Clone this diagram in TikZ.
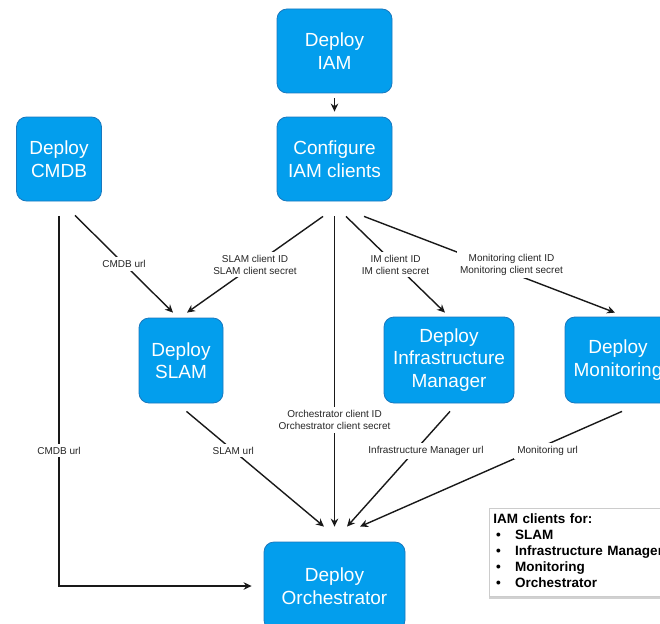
\documentclass[tikz,border=0pt]{standalone}
\usepackage{fontspec}
\setmainfont{Liberation Sans}
\usetikzlibrary{arrows.meta,shadows}
\definecolor{boxblue}{RGB}{3,158,237}
\definecolor{boxedge}{RGB}{25,120,190}
\begin{document}
\begin{tikzpicture}[x=1pt,y=-1pt,
  box/.style={draw=boxedge, line width=0.8pt, fill=boxblue, rounded corners=10pt,
    text=white, align=center, font=\fontsize{19}{22.5}\selectfont, inner sep=0pt},
  conn/.style={line width=1.4pt, draw=black!90, -{Stealth[length=8pt,width=7.5pt]}},
  lbl/.style={fill=white, inner sep=3pt, font=\fontsize{10}{12}\selectfont, text=black!85, align=center},
  legend/.style={draw=black!20, line width=0.6pt, fill=white, inner sep=4pt,
    font=\fontsize{13.5}{16}\selectfont\bfseries,
    drop shadow={shadow xshift=0pt, shadow yshift=-3pt, opacity=0.3, fill=black!60}}
]
\useasboundingbox (0,0) rectangle (660,623);

\node[box, minimum width=115pt, minimum height=84pt] (iam) at (334.5,51) {Deploy\\IAM};
\node[box, minimum width=115pt, minimum height=84pt] (conf) at (334.5,159) {Configure\\IAM clients};
\node[box, minimum width=85pt, minimum height=84pt] (cmdb) at (59,159) {Deploy\\CMDB};
\node[box, minimum width=84pt, minimum height=85pt] (slam) at (181,360.5) {Deploy\\SLAM};
\node[box, minimum width=130pt, minimum height=86pt] (im) at (449,360) {Deploy\\Infrastructure\\Manager};
\node[box, minimum width=106pt, minimum height=86pt] (mon) at (618,360) {Deploy\\Monitoring};
\node[box, minimum width=141pt, minimum height=88pt] (orch) at (334.5,586) {Deploy\\Orchestrator};

\draw[conn] ([shift={(0,5)}]iam.south) -- ([shift={(0,-5)}]conf.north);

\draw[conn] ([shift={(16,14)}]cmdb.south) -- node[lbl] {CMDB url} ([shift={(-8,-5)}]slam.north);
\draw[conn] ([shift={(-11.5,15)}]conf.south) -- node[lbl] {SLAM client ID\\SLAM client secret} ([shift={(6,-5)}]slam.north);
\draw[conn] ([shift={(0,15)}]conf.south) -- node[lbl, pos=0.656] {Orchestrator client ID\\Orchestrator client secret} ([shift={(0,-15)}]orch.north);
\draw[conn] ([shift={(11.5,15)}]conf.south) -- node[lbl] {IM client ID\\IM client secret} ([shift={(-4,-4)}]im.north);
\draw[conn] ([shift={(29.5,15)}]conf.south) -- node[lbl, xshift=22pt] {Monitoring client ID\\Monitoring client secret} ([shift={(-3,-4)}]mon.north);

\draw[conn] ([shift={(0,14.5)}]cmdb.south) |- node[lbl, pos=0.317] {CMDB url} ([shift={(-12,0)}]orch.west);
\draw[conn] ([shift={(5.5,8)}]slam.south) -- node[lbl, pos=0.34] {SLAM url} ([shift={(-10.5,-15)}]orch.north);
\draw[conn] ([shift={(1,8)}]im.south) -- node[lbl, pos=0.345, xshift=11.5pt] {Infrastructure Manager url} ([shift={(12.5,-15)}]orch.north);
\draw[conn] ([shift={(4,8)}]mon.south) -- node[lbl, pos=0.345, xshift=16pt] {Monitoring url} ([shift={(25.5,-15)}]orch.north);

\node[legend, anchor=north west, text width=192pt, minimum height=88pt] (leg) at (489,508) {%
\begin{tabular}{@{}l@{\hspace{14.5pt}}l@{}}
\multicolumn{2}{@{}l}{IAM clients for:}\\
\hspace{2.7pt}\textbullet & SLAM\\
\hspace{2.7pt}\textbullet & Infrastructure Manager\\
\hspace{2.7pt}\textbullet & Monitoring\\
\hspace{2.7pt}\textbullet & Orchestrator
\end{tabular}};
\end{tikzpicture}
\end{document}
